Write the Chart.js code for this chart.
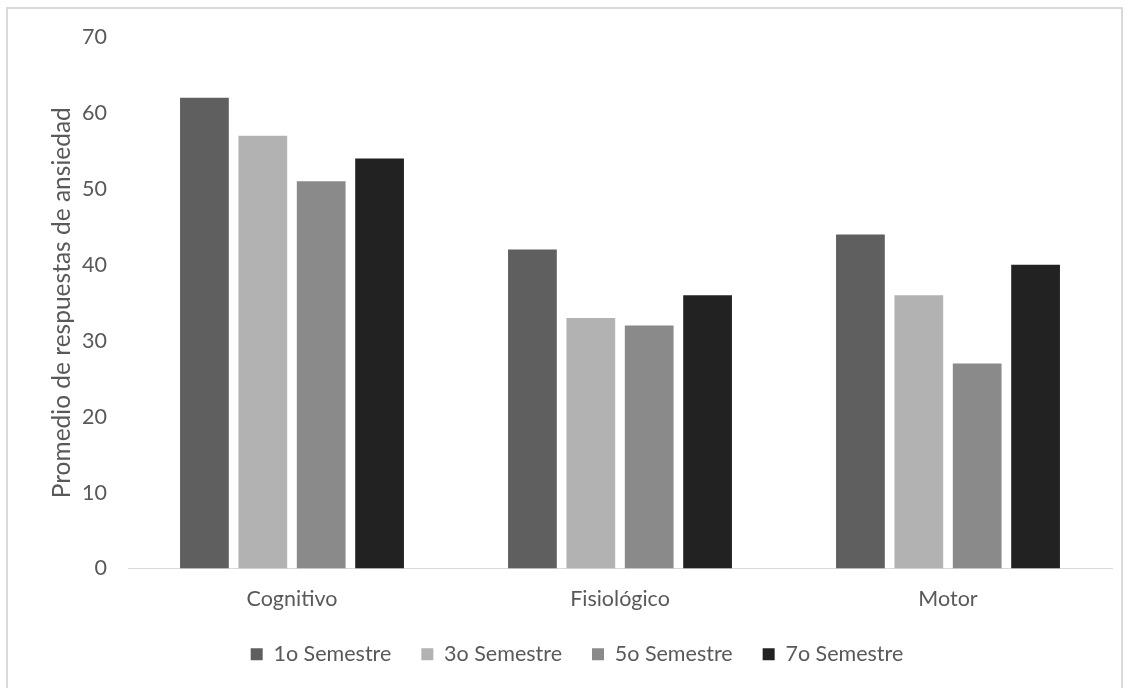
<!DOCTYPE html>
<html>
<head>
<meta charset="utf-8">
<script src="https://cdn.jsdelivr.net/npm/chart.js@4"></script>
<style>
  html, body { margin: 0; padding: 0; background: #fff; overflow: hidden; }
  .frame {
    position: absolute; left: 6px; top: 7px;
    width: 1117px; height: 700px;
    border: 2px solid #d9d9d9; box-sizing: border-box;
  }
  .wrap { position: absolute; left: 0; top: 0; width: 1132px; height: 688px; }
</style>
</head>
<body>
<div class="frame"></div>
<div class="wrap"><canvas id="bar-chart" width="1132" height="688"></canvas></div>
<script>
const categories = ['Cognitivo', 'Fisiológico', 'Motor']
const seriesNames = ['1o Semestre', '3o Semestre', '5o Semestre', '7o Semestre']
const sem1 = [62, 42, 44]
const sem3 = [57, 33, 36]
const sem5 = [51, 32, 27]
const sem7 = [54, 36, 40]
const barColors = ['#5f5f5f', '#b2b2b2', '#8a8a8a', '#222222']
const yTicks = [0, 10, 20, 30, 40, 50, 60, 70]

const textColor = '#595959'
const fontFamily = 'Lato, "Open Sans", sans-serif'

Chart.defaults.font.family = fontFamily
Chart.defaults.color = textColor

const ctx = document.getElementById('bar-chart').getContext('2d')
new Chart(ctx, {
	type: 'bar',
	data: {
		labels: categories,
		datasets: [sem1, sem3, sem5, sem7].map((data, i) => ({
			label: seriesNames[i],
			data,
			backgroundColor: barColors[i],
			borderWidth: 0,
			barPercentage: 0.835,
			categoryPercentage: 0.712
		}))
	},
	options: {
		responsive: false,
		animation: false,
		// left padding pushes the legend centre to the right; the y scale width makes up for it
		layout: { padding: { top: 37, right: 20, left: 42, bottom: 13 } },
		plugins: {
			tooltip: { enabled: false },
			legend: {
				position: 'bottom',
				labels: {
					boxWidth: 12,
					boxHeight: 12,
					padding: 30,
					font: { size: 21.5 },
					color: textColor
				}
			}
		},
		scales: {
			x: {
				grid: { display: false, drawTicks: false },
				border: { display: true, color: '#d9d9d9', width: 1 },
				ticks: { padding: 18, font: { size: 21.5 }, color: textColor },
				afterFit: s => { s.height = 45 }
			},
			y: {
				min: 0,
				max: 70,
				afterBuildTicks: s => { s.ticks = yTicks.map(v => ({ value: v })) },
				grid: { display: false, drawTicks: false },
				border: { display: false },
				ticks: { padding: 21, font: { size: 21.5 }, color: textColor },
				title: {
					display: true,
					text: 'Promedio de respuestas de ansiedad',
					font: { size: 24.5 },
					color: textColor,
					padding: { top: 5, bottom: 0 }
				},
				afterFit: s => { s.width = 86 }
			}
		}
	}
})
</script>
</body>
</html>
